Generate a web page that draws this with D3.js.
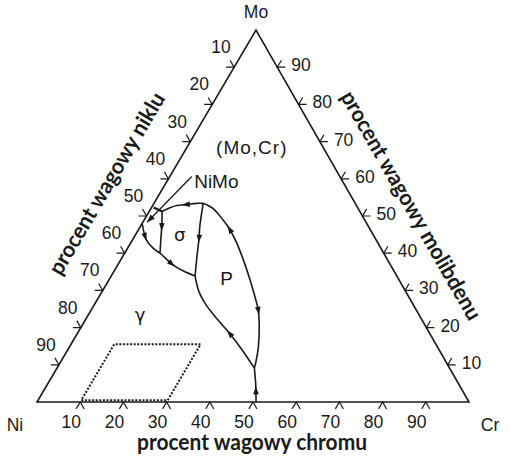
<!DOCTYPE html>
<html><head><meta charset="utf-8">
<script src="https://cdn.jsdelivr.net/npm/d3@7"></script>
<style>html,body{margin:0;padding:0;background:#fff;} svg{display:block;}</style>
</head><body>
<svg id="chart" width="510" height="461"></svg>
<script>
// ---------------- data ----------------
const vertexNames = ["Ni", "Cr", "Mo"];
const tickValues = [10, 20, 30, 40, 50, 60, 70, 80, 90];
const titleCr = "procent wagowy chromu";
const titleNi = "procent wagowy niklu";
const titleMo = "procent wagowy molibdenu";
// all curves as [Cr wt%, Mo wt%]  (Ni = 100 - Cr - Mo)
const curveA = [[11.4,53.4],[9.9,53.4],[7.7,53.1],[5.6,52.8],[4.3,52.2],[3.0,51.2]];
const curveB = [[11.4,53.4],[14.4,52.0],[18.3,48.9],[21.3,46.2],[24.6,42.7],[28.4,38.2],[32.7,32.8],[36.1,28.3],[38.7,24.7],[41.2,20.2],[43.7,14.9],[45.2,10.8],[45.7,9.1]];
const curveC = [[50.7,0],[48.3,4.6],[45.7,9.1]];
const curveD = [[45.7,9.1],[40.4,14.0],[35.4,18.3],[30.4,22.3],[25.9,26.1],[22.5,29.6],[19.4,33.9]];
const curveE = [[11.4,53.4],[13.8,47.1],[15.2,44.0],[17.2,39.1],[19.4,33.9]];
const curveF = [[0,48.0],[3.3,43.5],[6.0,41.3],[8.2,40.0],[12.9,36.8],[16.5,35.0],[19.4,33.9]];
const curveG = [[3.0,51.2],[5.0,47.1],[6.6,43.5],[8.2,40.0]];
const curveNiMo = [[3.0,51.2],[0.5,52.3]];
const leaderNiMo = [[5.1,60.6],[1.0,48.3]];
const dottedBox = [[10,0.5],[30,0.5],[30,15.5],[10,15.5]];
// arrows on curves: which curve, fraction along it, direction (+1 along point order)
const arrowCurves = ["A","B","B","C","D","E","F","F","G"];
const arrowAt     = [0.40, 0.21, 0.68, 0.33, 0.38, 0.48, 0.17, 0.66, 0.36];
const arrowDir    = [1, -1, 1, 1, 1, 1, 1, 1, 1];
// phase labels
const phaseNames = ["(Mo,Cr)", "NiMo", "σ", "P", "γ"];
const phaseCr    = [15.0, 11.4, 10.3, 27.0, 12.0];
const phaseMo    = [68.5, 59.4, 44.9, 33.3, 23.4];

// ---------------- layout ----------------
const svg = d3.select("#chart");
const P_NI = [37, 402], P_CR = [469, 402], P_MO = [256, 30];
const crX = d3.scaleLinear().domain([0, 100]).range([0, P_CR[0] - P_NI[0]]);
const moX = d3.scaleLinear().domain([0, 100]).range([0, P_MO[0] - P_NI[0]]);
const moY = d3.scaleLinear().domain([0, 100]).range([P_NI[1], P_MO[1]]);
const proj = (cr, mo) => [P_NI[0] + crX(cr) + moX(mo), moY(mo)];
const unit = (a, b) => { const dx = b[0]-a[0], dy = b[1]-a[1], l = Math.hypot(dx, dy); return [dx/l, dy/l]; };

const ink = "#1a1a1a";
const smooth = d3.line().x(d => proj(d[0], d[1])[0]).y(d => proj(d[0], d[1])[1]).curve(d3.curveCatmullRom.alpha(0.5));
const straight = d3.line().x(d => proj(d[0], d[1])[0]).y(d => proj(d[0], d[1])[1]);
const closed = d3.line().x(d => proj(d[0], d[1])[0]).y(d => proj(d[0], d[1])[1]).curve(d3.curveLinearClosed);

// dotted box
svg.append("path").attr("d", closed(dottedBox)).attr("fill", "none")
  .attr("stroke", ink).attr("stroke-width", 2).attr("stroke-dasharray", "2,1.6");

// triangle
svg.append("path").attr("d", closed([[0,0],[100,0],[0,100]])).attr("fill", "none")
  .attr("stroke", ink).attr("stroke-width", 1.6).attr("stroke-linejoin", "miter");

// ticks
const L = 8;
const dDL = unit(P_MO, P_NI), dDR = unit(P_MO, P_CR), dUL = unit(P_CR, P_MO), dUR = unit(P_NI, P_MO);
const tickG = svg.append("g").attr("fill", "none").attr("stroke", ink).attr("stroke-width", 1.2);
const labG = svg.append("g").attr("font-family", "'Liberation Sans', Arial, sans-serif")
  .attr("font-size", 17.5).attr("fill", ink);
const chevron = (p, a, b) => `M${p[0]+a[0]*L},${p[1]+a[1]*L}L${p[0]},${p[1]}L${p[0]+b[0]*L},${p[1]+b[1]*L}`;
tickValues.forEach(v => {
  // Cr axis (bottom)
  let p = proj(v, 0);
  tickG.append("path").attr("d", chevron(p, dDL, dDR));
  labG.append("text").attr("x", p[0] - 9).attr("y", p[1] + 20).attr("text-anchor", "middle")
    .attr("dominant-baseline", "central").text(v);
  // Ni axis (left)
  p = proj(0, 100 - v);
  tickG.append("path").attr("d", chevron(p, [-1, 0], dUL));
  labG.append("text").attr("x", p[0] - 13).attr("y", p[1] - 20).attr("text-anchor", "middle")
    .attr("dominant-baseline", "central").text(v);
  // Mo axis (right)
  p = proj(100 - v, v);
  tickG.append("path").attr("d", chevron(p, [1, 0], dUR));
  labG.append("text").attr("x", p[0] + 14).attr("y", p[1] - 2).attr("text-anchor", "start")
    .attr("dominant-baseline", "central").text(v);
});

// vertex names
const vpos = [[P_NI[0] - 22, P_NI[1] + 23], [P_CR[0] + 21, P_CR[1] + 23], [P_MO[0], P_MO[1] - 18]];
vertexNames.forEach((n, i) => {
  labG.append("text").attr("x", vpos[i][0]).attr("y", vpos[i][1]).attr("text-anchor", "middle")
    .attr("dominant-baseline", "central").text(n);
});

// boundaries
const curves = {A: curveA, B: curveB, C: curveC, D: curveD, E: curveE, F: curveF, G: curveG};
const curveNodes = {};
const cg = svg.append("g").attr("fill", "none").attr("stroke", ink).attr("stroke-width", 1.6);
Object.keys(curves).forEach(k => {
  curveNodes[k] = cg.append("path").attr("d", smooth(curves[k])).node();
});
cg.append("path").attr("d", straight(curveNiMo)).attr("stroke-width", 2.2);
cg.append("path").attr("d", straight(leaderNiMo)).attr("stroke-width", 1.3);

// arrowheads
const ag = svg.append("g").attr("fill", ink).attr("stroke", "none");
const arrowPoly = (c, d, fw, bw, hw) => {
  const n = [-d[1], d[0]];
  const tip = [c[0] + d[0]*fw, c[1] + d[1]*fw];
  const bc = [c[0] - d[0]*bw, c[1] - d[1]*bw];
  return [tip, [bc[0] + n[0]*hw, bc[1] + n[1]*hw], [bc[0] - n[0]*hw, bc[1] - n[1]*hw]];
};
arrowCurves.forEach((k, i) => {
  const node = curveNodes[k], len = node.getTotalLength();
  const s = arrowAt[i] * len;
  const a = node.getPointAtLength(s - 1.5), b = node.getPointAtLength(s + 1.5), c = node.getPointAtLength(s);
  let d = unit([a.x, a.y], [b.x, b.y]);
  if (arrowDir[i] < 0) d = [-d[0], -d[1]];
  ag.append("polygon").attr("points", arrowPoly([c.x, c.y], d, 4.5, 3.5, 2.8).map(q => q.join(",")).join(" "));
});
{
  const e0 = proj(...leaderNiMo[0]), e1 = proj(...leaderNiMo[1]);
  const d = unit(e0, e1);
  ag.append("polygon").attr("points", arrowPoly(e1, d, 0, 8, 3).map(q => q.join(",")).join(" "));
}

// phase labels
phaseNames.forEach((n, i) => {
  const p = proj(phaseCr[i], phaseMo[i]);
  const greek = (n === "σ" || n === "γ");
  svg.append("text").attr("x", p[0]).attr("y", p[1]).attr("text-anchor", "middle")
    .attr("dominant-baseline", "central")
    .attr("font-family", greek ? "'DejaVu Sans', sans-serif" : "'Liberation Sans', Arial, sans-serif")
    .attr("font-size", greek ? 18 : 19)
    .attr("letter-spacing", n === "(Mo,Cr)" ? 1 : 0)
    .attr("fill", ink).text(n);
});

// axis titles
const deg = r => r * 180 / Math.PI;
const angL = deg(Math.atan2(P_MO[1] - P_NI[1], P_MO[0] - P_NI[0]));
const angR = deg(Math.atan2(P_CR[1] - P_MO[1], P_CR[0] - P_MO[0]));
const titles = [
  {t: titleCr, x: 252, y: 441, a: 0, len: 230},
  {t: titleNi, x: 106, y: 183, a: angL, len: 207},
  {t: titleMo, x: 412, y: 205, a: angR, len: 260}
];
titles.forEach(o => {
  svg.append("text").attr("transform", `translate(${o.x},${o.y}) rotate(${o.a})`)
    .attr("text-anchor", "middle").attr("dominant-baseline", "central")
    .attr("font-family", "Lato, 'Open Sans', sans-serif").attr("font-weight", 700)
    .attr("font-size", 22).attr("textLength", o.len).attr("lengthAdjust", "spacingAndGlyphs")
    .attr("fill", ink).text(o.t);
});
</script>
</body></html>
